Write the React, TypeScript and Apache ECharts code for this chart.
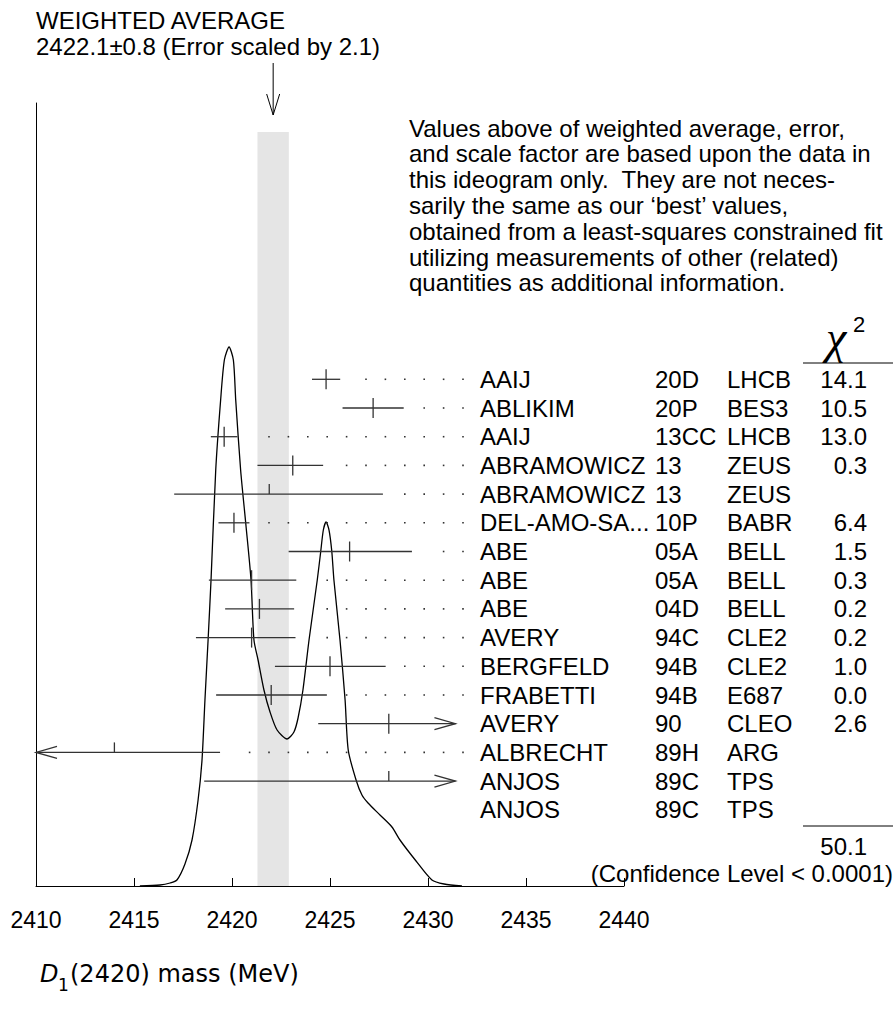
import React, { useEffect, useRef } from "react";
import * as echarts from "echarts";

// ---------- data ----------
const names = ["AAIJ", "ABLIKIM", "AAIJ", "ABRAMOWICZ", "ABRAMOWICZ", "DEL-AMO-SA...", "ABE", "ABE", "ABE", "AVERY", "BERGFELD", "FRABETTI", "AVERY", "ALBRECHT", "ANJOS", "ANJOS"];
const codes = ["20D", "20P", "13CC", "13", "13", "10P", "05A", "05A", "04D", "94C", "94B", "94B", "90", "89H", "89C", "89C"];
const exps = ["LHCB", "BES3", "LHCB", "ZEUS", "ZEUS", "BABR", "BELL", "BELL", "BELL", "CLE2", "CLE2", "E687", "CLEO", "ARG", "TPS", "TPS"];
const chi2 = ["14.1", "10.5", "13.0", "0.3", "", "6.4", "1.5", "0.3", "0.2", "0.2", "1.0", "0.0", "2.6", "", "", ""];
const values: (number | null)[] = [2424.8, 2427.2, 2419.6, 2423.1, 2421.9, 2420.1, 2426.0, 2421.0, 2421.4, 2421.0, 2425.0, 2422.0, 2428.0, 2414.0, 2428.0, null];
const errMinus: (number | null)[] = [0.72, 1.56, 0.68, 1.8, 4.85, 0.79, 3.11, 2.18, 1.75, 2.84, 2.81, 2.81, 3.6, 5.39, 9.42, null];
const errPlus: (number | null)[] = [0.72, 1.56, 0.68, 1.55, 5.8, 0.79, 3.18, 2.28, 1.77, 2.24, 2.84, 2.84, 3.6, 5.39, 9.42, null];

const avgValue = 2422.1;
const avgError = 0.8;
const chi2Total = "50.1";

const xTicks = [2410, 2415, 2420, 2425, 2430, 2435, 2440];

// ideogram curve: mass (MeV) and height above baseline
const curveMass = [2415.3, 2416.33, 2416.84, 2417.19, 2417.6, 2417.96, 2418.27, 2418.47, 2418.62, 2418.78, 2418.93, 2419.17, 2419.42, 2419.61, 2419.85, 2420.07, 2420.19, 2420.44, 2420.71, 2420.97, 2421.12, 2421.33, 2421.63, 2421.94, 2422.3, 2422.81, 2423.16, 2423.37, 2423.62, 2423.93, 2424.35, 2424.53, 2424.66, 2424.8, 2424.95, 2425.09, 2425.2, 2425.51, 2425.77, 2425.93, 2426.33, 2426.63, 2426.94, 2427.55, 2428.16, 2428.57, 2429.39, 2430.2, 2430.82, 2431.73];
const curveHeight = [0, 1, 3, 6, 22, 46, 86, 126, 186, 246, 306, 416, 486, 526, 539, 526, 486, 416, 361, 306, 246, 226, 196, 174, 156, 147, 154, 168, 196, 246, 306, 335, 356, 364, 356, 335, 306, 246, 186, 136, 106, 91, 83, 71, 59, 46, 25, 6, 2, 0];

const paragraph = [
  "Values above of weighted average, error,",
  "and scale factor are based upon the data in",
  "this ideogram only.  They are not neces-",
  "sarily the same as our \u2018best\u2019 values,",
  "obtained from a least-squares constrained fit",
  "utilizing measurements of other (related)",
  "quantities as additional information.",
];

// ---------- layout ----------
const W = 895;
const H = 1027;
const FONT = "'Liberation Sans', Arial, Helvetica, sans-serif";
const TITLE_FONT = "'DejaVu Sans', 'Liberation Sans', sans-serif";
const X_MIN = 2410;
const X_MAX = 2440;
const CLIP_MAX = 2431.4;
const GRID_LEFT = 36;
const GRID_RIGHT = W - 624;
const GRID_TOP = 103;
const BASE_Y = 886;
const Y_MAX = BASE_Y - GRID_TOP;
const ROW0_Y = 379.3;
const ROW_H = 28.7;
const NAME_X = 480;
const CODE_X = 655;
const EXP_X = 727;
const CHI_X = 867;
const DOT_END = 463;
const DOT_STEP = 19.4;
const BAND_TOP = 132;
const INK = "#333";

export default function App() {
  const ref = useRef<HTMLDivElement>(null);
  useEffect(() => {
    if (!ref.current) return;
    const chart = echarts.init(ref.current, undefined, { renderer: "svg" });

    const rowData = names.map((_, i) => [i]);
    const barData: number[][] = [];
    values.forEach((v, i) => {
      if (v !== null) barData.push([i, v, errMinus[i] as number, errPlus[i] as number, chi2[i] !== "" ? 1 : 0]);
    });

    const txt = (text: string, x: number, y: number, opts: any = {}) => ({
      type: "text",
      style: {
        text,
        x,
        y,
        fill: "#000",
        fontSize: 24,
        fontFamily: FONT,
        align: "left",
        verticalAlign: "middle",
        ...opts,
      },
    });

    const graphic: any[] = [
      { type: "text", left: 36, top: 8, style: { text: "WEIGHTED AVERAGE", fill: "#000", fontSize: 24, fontFamily: FONT } },
      { type: "text", left: 36, top: 34, style: { text: "2422.1\u00b10.8 (Error scaled by 2.1)", fill: "#000", fontSize: 24, fontFamily: FONT } },
      ...paragraph.map((line, k) => ({
        type: "text",
        left: 409,
        top: 116 + k * 25.8,
        style: { text: line, fill: "#000", fontSize: 24, fontFamily: FONT },
      })),
      { type: "text", left: 826, top: 314, style: { text: "\u03c7", fill: "#000", fontSize: 46, fontFamily: "'Liberation Serif', 'DejaVu Serif', serif", fontStyle: "italic" } },
      { type: "text", left: 853, top: 313, style: { text: "2", fill: "#000", fontSize: 22, fontFamily: FONT } },
      { type: "line", shape: { x1: 803, y1: 363, x2: 893, y2: 363 }, style: { stroke: "#000", lineWidth: 1 } },
      { type: "line", shape: { x1: 803, y1: 826, x2: 893, y2: 826 }, style: { stroke: "#000", lineWidth: 1 } },
      { type: "text", right: W - CHI_X, top: 834, style: { text: chi2Total, fill: "#000", fontSize: 24, fontFamily: FONT } },
      { type: "text", right: 2, top: 861, style: { text: "(Confidence Level < 0.0001)", fill: "#000", fontSize: 24, fontFamily: FONT } },
      { type: "text", left: 40, top: 962, style: { text: "D", fill: "#000", fontSize: 24, fontFamily: TITLE_FONT, fontStyle: "italic" } },
      { type: "text", left: 58, top: 976, style: { text: "1", fill: "#000", fontSize: 17, fontFamily: TITLE_FONT } },
      { type: "text", left: 70, top: 962, style: { text: "(2420) mass (MeV)", fill: "#000", fontSize: 24, fontFamily: TITLE_FONT } },
    ];

    const option: any = {
      animation: false,
      backgroundColor: "#fff",
      grid: { left: GRID_LEFT, right: GRID_RIGHT, top: GRID_TOP, bottom: H - BASE_Y, containLabel: false },
      xAxis: {
        type: "value",
        min: X_MIN,
        max: X_MAX,
        interval: 5,
        axisLine: { show: true, lineStyle: { color: "#000", width: 1 } },
        axisTick: { show: true, inside: true, length: 8, lineStyle: { color: "#000" } },
        axisLabel: {
          show: true,
          color: "#000",
          fontSize: 23,
          fontFamily: FONT,
          margin: 22,
          formatter: (v: number) => (xTicks.includes(v) ? String(v) : ""),
        },
        splitLine: { show: false },
      },
      yAxis: [
        {
          type: "value",
          min: 0,
          max: Y_MAX,
          axisLine: { show: true, lineStyle: { color: "#000", width: 1 } },
          axisTick: { show: false },
          axisLabel: { show: false },
          splitLine: { show: false },
        },
        {
          type: "value",
          min: (GRID_TOP - ROW0_Y) / ROW_H,
          max: (BASE_Y - ROW0_Y) / ROW_H,
          inverse: true,
          show: false,
          splitLine: { show: false },
        },
      ],
      graphic,
      series: [
        {
          type: "custom",
          name: "average",
          coordinateSystem: "cartesian2d",
          xAxisIndex: 0,
          yAxisIndex: 0,
          z: 1,
          clip: false,
          silent: true,
          data: [[avgValue, avgError]],
          renderItem: (_p: any, api: any) => {
            const m = api.value(0);
            const e = api.value(1);
            const [cx, base] = api.coord([m, 0]);
            const xl = api.coord([m - e, 0])[0];
            const xr = api.coord([m + e, 0])[0];
            return {
              type: "group",
              children: [
                { type: "rect", shape: { x: xl, y: BAND_TOP, width: xr - xl, height: base - BAND_TOP }, style: { fill: "#e5e5e5" } },
                { type: "line", shape: { x1: cx, y1: 63, x2: cx, y2: 115 }, style: { stroke: "#000", lineWidth: 1 } },
                { type: "polyline", shape: { points: [[cx - 6.5, 94], [cx, 115], [cx + 6.5, 94]] }, style: { stroke: "#000", lineWidth: 1, fill: "none" } },
              ],
            };
          },
        },
        {
          type: "line",
          name: "ideogram",
          xAxisIndex: 0,
          yAxisIndex: 0,
          z: 3,
          smooth: 0.25,
          symbol: "none",
          silent: true,
          lineStyle: { color: "#000", width: 1.3 },
          data: curveMass.map((m, i) => [m, curveHeight[i]]),
        },
        {
          type: "custom",
          name: "measurements",
          coordinateSystem: "cartesian2d",
          xAxisIndex: 0,
          yAxisIndex: 1,
          z: 4,
          clip: false,
          silent: true,
          data: barData,
          renderItem: (_p: any, api: any) => {
            const i = api.value(0);
            const v = api.value(1);
            const em = api.value(2);
            const ep = api.value(3);
            const used = api.value(4);
            const [cx, y] = api.coord([v, i]);
            const lo = v - em;
            const hi = v + ep;
            const xl = api.coord([Math.max(lo, X_MIN), i])[0];
            const xr = api.coord([Math.min(hi, CLIP_MAX), i])[0];
            const ls = { stroke: INK, lineWidth: 1.3, fill: "none" };
            const children: any[] = [
              { type: "line", shape: { x1: xl, y1: y, x2: xr, y2: y }, style: ls },
              { type: "line", shape: { x1: cx, y1: y - 10, x2: cx, y2: used ? y + 10 : y }, style: ls },
            ];
            if (lo < X_MIN) children.push({ type: "polyline", shape: { points: [[xl + 21, y - 6], [xl, y], [xl + 21, y + 6]] }, style: ls });
            if (hi > CLIP_MAX) children.push({ type: "polyline", shape: { points: [[xr - 21, y - 6], [xr, y], [xr - 21, y + 6]] }, style: ls });
            for (let k = 0; k < 40; k++) {
              const dx = DOT_END - k * DOT_STEP;
              if (dx <= xr + 16) break;
              children.push({ type: "rect", shape: { x: dx - 0.8, y: y - 0.8, width: 1.6, height: 1.6 }, style: { fill: INK } });
            }
            return { type: "group", children };
          },
        },
        {
          type: "custom",
          name: "table",
          coordinateSystem: "cartesian2d",
          xAxisIndex: 0,
          yAxisIndex: 1,
          z: 5,
          clip: false,
          silent: true,
          data: rowData,
          renderItem: (p: any, api: any) => {
            const i = api.value(0);
            const y = api.coord([X_MIN, i])[1];
            const idx = p.dataIndex;
            return {
              type: "group",
              children: [
                txt(names[idx], NAME_X, y),
                txt(codes[idx], CODE_X, y),
                txt(exps[idx], EXP_X, y),
                txt(chi2[idx], CHI_X, y, { align: "right" }),
              ],
            };
          },
        },
      ],
    };
    chart.setOption(option);
    return () => chart.dispose();
  }, []);

  return (
    <div
      ref={ref}
      style={{ position: "fixed", left: 0, top: 0, width: W, height: H, background: "#fff" }}
    />
  );
}
